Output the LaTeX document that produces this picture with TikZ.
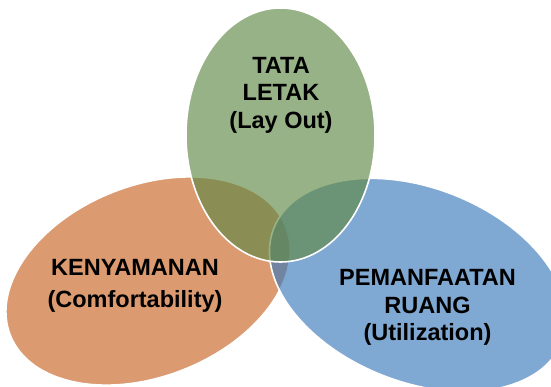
\documentclass[tikz,border=0pt]{standalone}
\usepackage{fontspec}
\setmainfont{Liberation Sans}
\usetikzlibrary{shapes.geometric}
\definecolor{VennGreen}{RGB}{96,137,69}
\definecolor{VennBlue}{RGB}{58,121,186}
\definecolor{VennOrange}{RGB}{219,154,112}
\tikzset{venn/.style={ellipse,draw=white,line width=1.6pt,inner sep=0pt,fill opacity=.65},lbl/.style={align=center,font=\bfseries\fontsize{23.5}{27.5}\selectfont}}

\begin{document}
\begin{tikzpicture}[x=1pt,y=-1pt]
\useasboundingbox (0,0) rectangle (551,386);
\clip (0,0) rectangle (551,386);
\node[venn,fill=VennOrange,fill opacity=1,minimum width=296pt,minimum height=191pt,rotate=21.5] (comfort) at (148,281) {};
\node[venn,fill=VennBlue,minimum width=310pt,minimum height=194pt,rotate=-21.5] (utilize) at (418,285) {};
\node[venn,fill=VennGreen,minimum width=189pt,minimum height=254pt] (layout) at (280.5,135) {};
\node[lbl] (layouttxt) at (281,95) {TATA\\LETAK\\(Lay Out)};
\node[lbl] (comforttxt) at (135,286) {KENYAMANAN\\[4pt](Comfortability)};
\node[lbl] (utilizetxt) at (427.5,307.5) {PEMANFAATAN\\RUANG\\(Utilization)};
\end{tikzpicture}
\end{document}
